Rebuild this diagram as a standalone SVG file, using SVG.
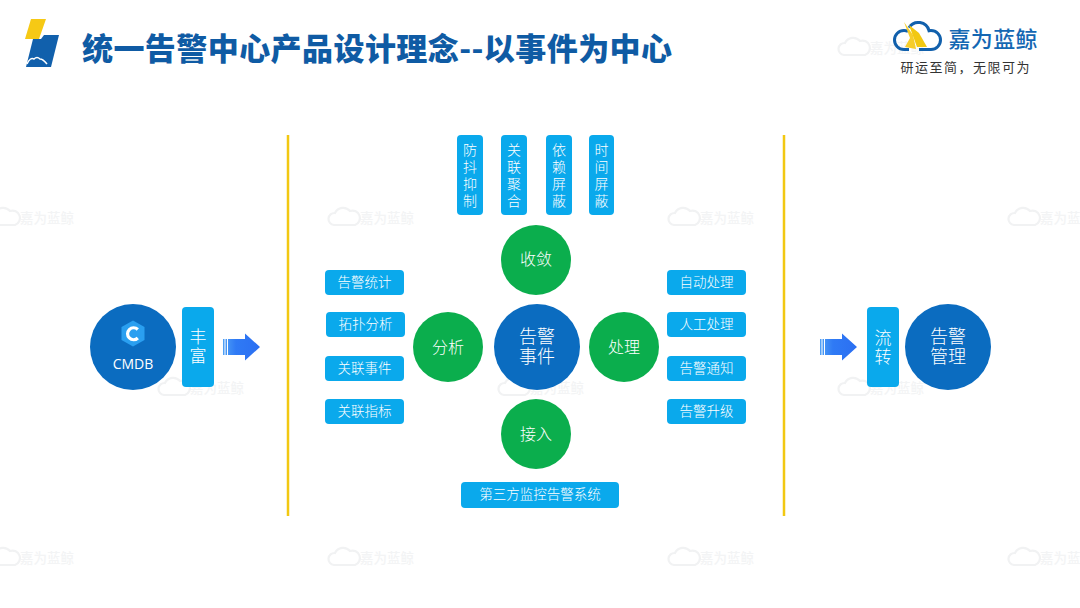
<svg xmlns="http://www.w3.org/2000/svg" width="1080" height="608" viewBox="0 0 1080 608">
<style>
text{font-family:"Noto Sans CJK SC","Noto Sans",sans-serif;text-anchor:middle;fill:#fff;font-weight:300}
.title{font-size:31px;font-weight:900;fill:#0f5ba4;text-anchor:start}
.tag{fill:#0aa9ec}
.tagt{font-size:13.500px}
.vt{font-size:14px}
.blue{fill:#0b6cc0}
.green{fill:#0bae4d}
.big{font-size:18px}
.mid{font-size:17px}
.circ{font-size:16px}
.side{stroke:#f2c811;stroke-width:2.500;fill:none}
.wm{fill:#f3f4f5;font-size:13.500px;text-anchor:start;font-weight:500}
.wmi{fill:none;stroke:#f1f2f3;stroke-width:2.200}
</style>
<defs>
<linearGradient id="arr" x1="0" x2="1" y1="0" y2="0"><stop offset="0" stop-color="#4fa0f5"/><stop offset="0.35" stop-color="#2f7af5"/><stop offset="1" stop-color="#2b6ff2"/></linearGradient>
<g id="wmk"><path class="wmi" d="M6 19a6 6 0 0 1 1-12a9 9 0 0 1 15-2a7 7 0 0 1 5 14z"/><text class="wm" x="32" y="17">嘉为蓝鲸</text></g>
<path id="arrow" fill="url(#arr)" d="M0 -8H1.500V8H0zM2.500 -8H4V8H2.500zM5 -8H22V-13.500L37 0L22 13.500V8H5z"/>
</defs>
<rect width="1080" height="608" fill="#fff"/>
<g id="watermarks">
<use href="#wmk" x="838" y="36"/>
<use href="#wmk" x="-12" y="206"/><use href="#wmk" x="328" y="206"/><use href="#wmk" x="668" y="206"/><use href="#wmk" x="1008" y="206"/>
<use href="#wmk" x="158" y="376"/><use href="#wmk" x="498" y="376"/><use href="#wmk" x="838" y="376"/>
<use href="#wmk" x="-12" y="546"/><use href="#wmk" x="328" y="546"/><use href="#wmk" x="668" y="546"/><use href="#wmk" x="1008" y="546"/>
</g>
<g id="header">
<polygon points="31,19 46,19 39,39 25,39" fill="#f6c915"/>
<polygon points="44,35 59,35 51,67 26,67 33,39 41,39" fill="#1160ac"/>
<path d="M27 64q3-7 7-5q3-3 6 0q3 0 7 5" fill="none" stroke="#fff" stroke-width="1.500"/>
<text class="title" x="82" y="60" textLength="590" lengthAdjust="spacing">统一告警中心产品设计理念--以事件为中心</text>
</g>
<g id="logo">
<path d="M909 49.500H904a9.500 9.500 0 0 1 0-19q2 0 4 .8M919 49.500h12a9.500 9.500 0 0 0 0-19q-1 0-2 .2a11 11 0 0 0-20-3" fill="none" stroke="#1160ac" stroke-width="3"/>
<polygon points="904,22 913,35 916,49 905,47 910,38" fill="#f6cd2a"/>
<polygon points="909,25 919,33 927,47 917,47" fill="#f2c811"/>
<text x="993" y="47" style="font-size:22px;fill:#1467b3;font-weight:500" textLength="89">嘉为蓝鲸</text>
<text x="965" y="72" style="font-size:13px;fill:#333;font-weight:400" textLength="129">研运至简，无限可为</text>
</g>
<g id="dividers"><line class="side" x1="288" y1="135" x2="288" y2="516"/><line class="side" x1="784" y1="135" x2="784" y2="516"/></g>
<g id="connectors"><use href="#arrow" x="223" y="347"/><use href="#arrow" x="820" y="347"/></g>
<g id="cmdb"><circle class="blue" cx="133" cy="347" r="43"/>
<polygon points="133,320.500 144.500,327 144.500,340 133,346.500 121.500,340 121.500,327" fill="#2a9ff0"/>
<path d="M137.800 329.500a6 6 0 1 0 0 8.500" fill="none" stroke="#fff" stroke-width="3.200"/>
<text x="133" y="369" style="font-size:14px;font-family:'Open Sans','Noto Sans',sans-serif;font-weight:400">CMDB</text></g>
<g id="fengfu"><rect class="tag" x="182" y="307" width="32" height="80" rx="4"/><text class="mid"><tspan x="198" y="343">丰</tspan><tspan x="198" y="362">富</tspan></text></g>
<g id="liuzhuan"><rect class="tag" x="867" y="307" width="32" height="80" rx="4"/><text class="mid"><tspan x="883" y="344">流</tspan><tspan x="883" y="363">转</tspan></text></g>
<g id="manage"><circle class="blue" cx="948" cy="347" r="43"/><text class="big"><tspan x="948" y="343">告警</tspan><tspan x="948" y="363">管理</tspan></text></g>
<g id="event"><circle class="blue" cx="537" cy="347" r="43"/><text class="big"><tspan x="537" y="343">告警</tspan><tspan x="537" y="363">事件</tspan></text></g>
<g id="shoulian"><circle class="green" cx="536" cy="260" r="35"/><text class="circ" x="536" y="265">收敛</text></g>
<g id="jieru"><circle class="green" cx="536" cy="434" r="35"/><text class="circ" x="536" y="440">接入</text></g>
<g id="fenxi"><circle class="green" cx="448" cy="347" r="35"/><text class="circ" x="448" y="353">分析</text></g>
<g id="chuli"><circle class="green" cx="624" cy="347" r="35"/><text class="circ" x="624" y="353">处理</text></g>
<g id="v1"><rect class="tag" x="457" y="135" width="26" height="80" rx="4"/><text class="vt"><tspan x="470" y="155">防</tspan><tspan x="470" y="172">抖</tspan><tspan x="470" y="189">抑</tspan><tspan x="470" y="206">制</tspan></text></g>
<g id="v2"><rect class="tag" x="501" y="135" width="26" height="80" rx="4"/><text class="vt"><tspan x="514" y="155">关</tspan><tspan x="514" y="172">联</tspan><tspan x="514" y="189">聚</tspan><tspan x="514" y="206">合</tspan></text></g>
<g id="v3"><rect class="tag" x="546" y="135" width="26" height="80" rx="4"/><text class="vt"><tspan x="559" y="155">依</tspan><tspan x="559" y="172">赖</tspan><tspan x="559" y="189">屏</tspan><tspan x="559" y="206">蔽</tspan></text></g>
<g id="v4"><rect class="tag" x="589" y="135" width="25" height="80" rx="4"/><text class="vt"><tspan x="601.500" y="155">时</tspan><tspan x="601.500" y="172">间</tspan><tspan x="601.500" y="189">屏</tspan><tspan x="601.500" y="206">蔽</tspan></text></g>
<g id="l1"><rect class="tag" x="325" y="270" width="79" height="25" rx="4"/><text class="tagt" x="364.500" y="287">告警统计</text></g>
<g id="l2"><rect class="tag" x="326" y="312" width="79" height="25" rx="4"/><text class="tagt" x="365.500" y="329">拓扑分析</text></g>
<g id="l3"><rect class="tag" x="325" y="356" width="79" height="25" rx="4"/><text class="tagt" x="364.500" y="373">关联事件</text></g>
<g id="l4"><rect class="tag" x="325" y="399" width="79" height="25" rx="4"/><text class="tagt" x="364.500" y="416">关联指标</text></g>
<g id="r1"><rect class="tag" x="667" y="270" width="79" height="25" rx="4"/><text class="tagt" x="706.500" y="287">自动处理</text></g>
<g id="r2"><rect class="tag" x="667" y="312" width="79" height="25" rx="4"/><text class="tagt" x="706.500" y="329">人工处理</text></g>
<g id="r3"><rect class="tag" x="667" y="356" width="79" height="25" rx="4"/><text class="tagt" x="706.500" y="373">告警通知</text></g>
<g id="r4"><rect class="tag" x="667" y="399" width="79" height="25" rx="4"/><text class="tagt" x="706.500" y="416">告警升级</text></g>
<g id="third"><rect class="tag" x="461" y="482" width="158" height="26" rx="4"/><text class="tagt" x="540" y="499">第三方监控告警系统</text></g>
</svg>
